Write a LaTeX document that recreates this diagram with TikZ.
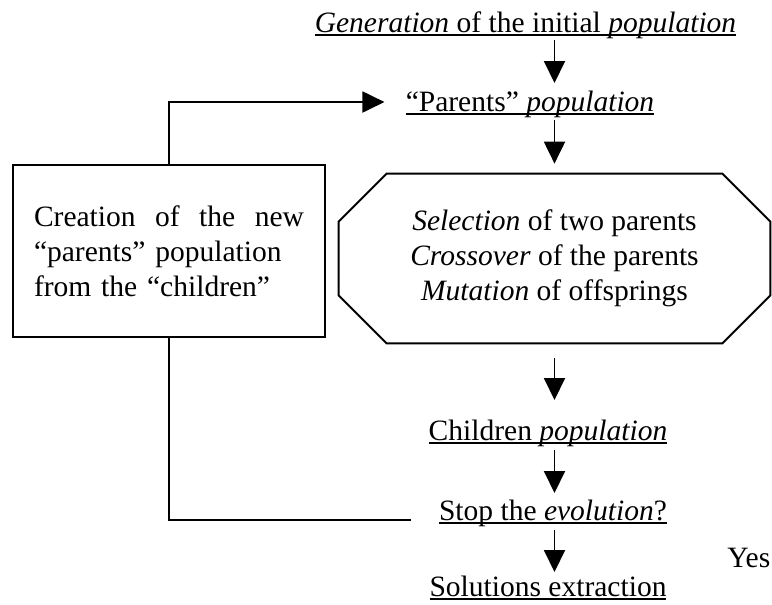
\documentclass[tikz,border=0pt]{standalone}
\usepackage{fontspec}
\setmainfont{Liberation Serif}
\usetikzlibrary{arrows.meta,calc,positioning}
\newcommand\undertext[1]{\setbox0\hbox{#1}\rlap{\rule[-0.14em]{\wd0}{1pt}}\box0}
\tikzset{
  stage/.style={inner sep=0.1cm, anchor=base},
  operator/.style={
    minimum width=8.62cm, minimum height=3.38cm, align=center
  },
  process/.style={
    draw, line width=1.1pt, minimum width=6.24cm, minimum height=3.44cm,
    text width=5.4cm, align=left
  },
  flow/.style={-{Triangle[length=0.44cm,width=0.42cm]}, line width=1.1pt},
  link/.style={line width=1.1pt}
}

\begin{document}
\begin{tikzpicture}[every node/.style={font=\fontsize{16.8}{19.9}\selectfont}]
  \useasboundingbox (0,0) rectangle (15.44,-12.08);
  % main column
  \node[stage] (gen) at (10.51,-0.64)
    {\undertext{\textit{Generation} of the initial \textit{population}}};
  \node[stage] (parents) at (10.60,-2.22)
    {\undertext{“Parents” \textit{population}}};
  \node[operator] (sel) at (11.09,-5.17)
    {\textit{Selection} of two parents\\
     \textit{Crossover} of the parents\\
     \textit{Mutation} of offsprings};
  \draw[link] ($(sel.north west)+(0.96,0)$) -- ($(sel.north east)+(-0.96,0)$)
    -- ($(sel.north east)+(0,-0.96)$) -- ($(sel.south east)+(0,0.96)$)
    -- ($(sel.south east)+(-0.96,0)$) -- ($(sel.south west)+(0.96,0)$)
    -- ($(sel.south west)+(0,0.96)$) -- ($(sel.north west)+(0,-0.96)$) -- cycle;
  \node[stage] (children) at (10.96,-8.80)
    {\undertext{Children \textit{population}}};
  \node[stage] (stop) at (11.06,-10.40)
    {\undertext{Stop the \textit{evolution}?}};
  \node[stage] (sol) at (10.96,-11.92)
    {\undertext{Solutions extraction}};
  \node[anchor=base west, inner sep=0] (yes) at (14.54,-11.34) {Yes};
  % loop back
  \node[process] (box) at (3.38,-5.02)
    {\hbox to \linewidth{Creation\hfill of\hfill the\hfill new}\\
     “parents” population\\
     from the “children”};

  \draw[flow] ([yshift=-0.16cm]gen.base -| sel.north)
    -- ([yshift=0.56cm]parents.base -| sel.north);
  \draw[flow] ([yshift=-0.18cm]parents.base -| sel.north)
    -- ([yshift=0.2cm]sel.north);
  \draw[flow] ([yshift=-0.3cm]sel.south)
    -- ([yshift=0.8cm]children.base -| sel.north);
  \draw[flow] ([yshift=-0.2cm]children.base -| sel.north)
    -- ([yshift=0.54cm]stop.base -| sel.north);
  \draw[flow] ([yshift=-0.2cm]stop.base -| sel.north)
    -- ([yshift=0.48cm]sol.base -| sel.north);
  \draw[link] ([xshift=-0.46cm]stop.base west) -| (box.south);
  \draw[flow] (box.north) |- ([xshift=-0.32cm,yshift=0.18cm]parents.base west);
\end{tikzpicture}
\end{document}
